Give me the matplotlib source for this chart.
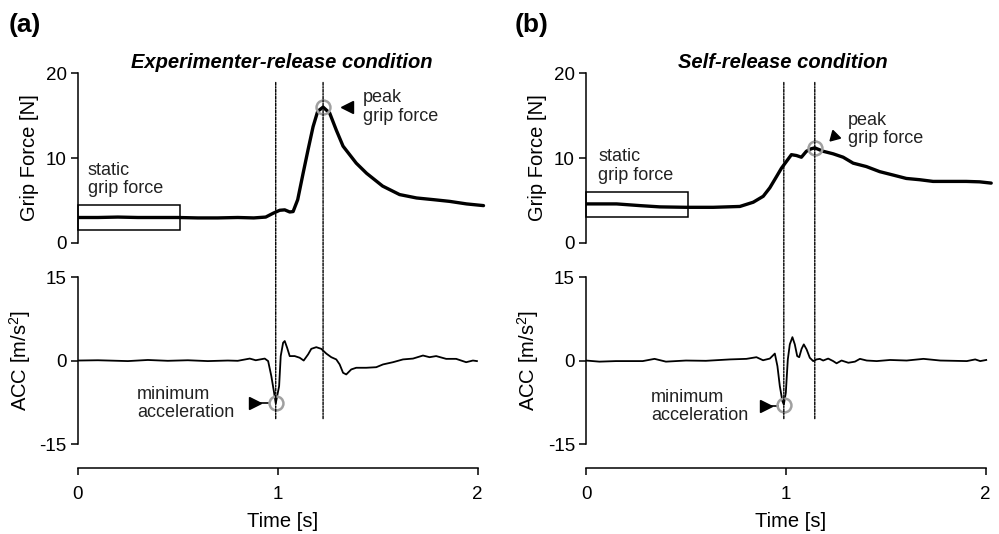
import numpy as np
import matplotlib
matplotlib.use("Agg")
import matplotlib.pyplot as plt
from matplotlib.patches import Rectangle, ConnectionPatch

plt.rcParams['font.family'] = ['Liberation Sans', 'DejaVu Sans']
plt.rcParams['mathtext.default'] = 'regular'
plt.rcParams['axes.unicode_minus'] = False

# ---- data (time in s) ----
# (a) experimenter-release: grip force [N]
t_grip_a = [0.00, 0.10, 0.20, 0.30, 0.40, 0.50, 0.60, 0.70, 0.80, 0.88, 0.94, 0.977, 1.01, 1.035,
            1.06, 1.077, 1.10, 1.127, 1.152, 1.177, 1.20, 1.227, 1.26, 1.293, 1.327, 1.36, 1.393,
            1.445, 1.525, 1.61, 1.695, 1.78, 1.86, 1.945, 2.03]
grip_a = [3.0, 3.0, 3.05, 3.0, 3.0, 3.0, 2.95, 2.95, 3.0, 2.95, 3.05, 3.5, 3.85, 3.9,
          3.65, 3.7, 5.1, 8.2, 11.0, 13.7, 15.5, 16.0, 15.3, 13.3, 11.4, 10.4, 9.4,
          8.2, 6.7, 5.7, 5.3, 5.1, 4.9, 4.6, 4.4]

# (a) acceleration [m/s^2]
t_acc_a = [0.00, 0.10, 0.25, 0.35, 0.45, 0.55, 0.65, 0.75, 0.80, 0.86, 0.89, 0.935, 0.952, 0.968,
           0.982, 0.99, 1.007, 1.015, 1.027, 1.035, 1.047, 1.06, 1.085, 1.11, 1.13, 1.152, 1.168,
           1.193, 1.218, 1.243, 1.268, 1.293, 1.31, 1.327, 1.343, 1.368, 1.393, 1.443, 1.493,
           1.527, 1.577, 1.627, 1.677, 1.727, 1.76, 1.793, 1.843, 1.893, 1.943, 1.977, 1.997]
acc_a = [0.0, 0.05, -0.1, 0.1, -0.05, 0.05, -0.1, 0.0, -0.05, 0.35, 0.05, 0.35, -0.1, -2.8,
         -5.8, -7.7, -4.6, 0.8, 3.2, 3.5, 2.3, 0.8, 0.8, 0.5, 0.0, 1.1, 2.1,
         2.4, 2.1, 1.25, 0.6, 0.2, -0.7, -2.2, -2.5, -1.6, -1.3, -1.3, -1.2,
         -0.7, -0.3, 0.2, 0.35, 0.9, 0.6, 0.8, 0.3, 0.3, -0.3, 0.0, -0.1]

# (b) self-release: grip force [N]
t_grip_b = [0.00, 0.153, 0.27, 0.37, 0.503, 0.637, 0.77, 0.837, 0.887, 0.92, 0.953, 0.978, 1.003,
            1.028, 1.053, 1.078, 1.103, 1.128, 1.145, 1.187, 1.237, 1.287, 1.337, 1.403, 1.47,
            1.537, 1.603, 1.67, 1.737, 1.82, 1.903, 1.97, 2.028]
grip_b = [4.6, 4.6, 4.4, 4.25, 4.2, 4.2, 4.3, 4.8, 5.5, 6.5, 7.8, 8.8, 9.6,
          10.4, 10.3, 10.1, 10.8, 11.1, 11.2, 10.8, 10.5, 10.1, 9.4, 9.0, 8.4,
          8.0, 7.6, 7.45, 7.25, 7.25, 7.25, 7.2, 7.05]

# (b) acceleration [m/s^2]
t_acc_b = [0.00, 0.067, 0.15, 0.284, 0.343, 0.40, 0.50, 0.60, 0.72, 0.803, 0.853, 0.886, 0.92,
           0.945, 0.958, 0.97, 0.983, 0.99, 1.00, 1.01, 1.02, 1.033, 1.045, 1.057, 1.067, 1.079,
           1.09, 1.104, 1.12, 1.137, 1.154, 1.17, 1.187, 1.212, 1.237, 1.254, 1.279, 1.313,
           1.346, 1.371, 1.405, 1.455, 1.522, 1.605, 1.689, 1.773, 1.906, 1.948, 1.973, 2.003]
acc_b = [0.0, -0.2, -0.1, -0.1, 0.3, -0.2, 0.0, -0.05, 0.2, 0.3, 0.6, 0.05, 0.35,
         1.25, -1.0, -4.6, -7.3, -7.9, -5.8, 0.2, 2.9, 4.2, 2.9, 0.8, 0.6, 2.1,
         2.9, 2.0, 0.5, -0.1, 0.2, 0.3, 0.0, 0.35, -0.1, -0.5, 0.0, -0.4,
         -0.2, 0.3, 0.0, -0.1, 0.1, 0.0, 0.3, 0.0, -0.1, 0.2, -0.1, 0.1]

titles = ['Experimenter-release condition', 'Self-release condition']
title_x = [1.02, 0.985]                   # title centre, in seconds
panel_labels = ['(a)', '(b)']
static_box = [(1.5, 4.5), (3.0, 6.0)]     # y-range of static grip force box
box_t = 0.51

fig = plt.figure(figsize=(9.99, 5.34), dpi=100)

lefts = [0.078, 0.5866]
label_x = [0.009, 0.515]
panels = [(t_grip_a, grip_a, t_acc_a, acc_a), (t_grip_b, grip_b, t_acc_b, acc_b)]

grey = '#a0a0a0'
tfs = 13.5   # tick labels
lfs = 14.5   # axis labels
afs = 13     # annotations
txt_col = '#222222'

for i, (tg, g, ta, a) in enumerate(panels):
    left = lefts[i]
    ax1 = fig.add_axes([left, 0.545, 0.41, 0.318])
    ax2 = fig.add_axes([left, 0.1685, 0.41, 0.3127])

    tg = np.array(tg); g = np.array(g); ta = np.array(ta); a = np.array(a)

    # grip force
    ax1.plot(tg, g, color='black', lw=2.4, solid_capstyle='round')
    ax1.set_xlim(0, 2.05)
    ax1.set_ylim(0, 20)
    for s in ['top', 'right', 'bottom']:
        ax1.spines[s].set_visible(False)
    ax1.spines['left'].set_linewidth(1.1)
    ax1.set_xticks([])
    ax1.set_yticks([0, 10, 20])
    ax1.tick_params(axis='y', direction='out', length=5, width=1.1, pad=3, labelsize=tfs)
    ax1.set_ylabel('Grip Force [N]', fontsize=lfs, labelpad=5)
    lo, hi = static_box[i]
    ax1.add_patch(Rectangle((0, lo), box_t, hi - lo, fill=False, ec='black', lw=1.1, clip_on=False))
    ax1.text(0.05 if i == 0 else 0.06, 5.4 if i == 0 else 7.0, 'static\ngrip force',
             fontsize=afs, va='bottom', ha='left', color=txt_col, linespacing=1.1)

    # peak grip force marker
    k = int(np.argmax(g))
    ax1.plot(tg[k], g[k], 'o', mfc='none', mec=grey, ms=10, mew=1.8, clip_on=False, zorder=5)

    # acceleration
    ax2.plot(ta, a, color='black', lw=1.3)
    ax2.set_xlim(0, 2.05)
    ax2.set_ylim(-15, 15)
    for s in ['top', 'right']:
        ax2.spines[s].set_visible(False)
    ax2.spines['left'].set_linewidth(1.1)
    ax2.spines['bottom'].set_linewidth(1.1)
    ax2.spines['bottom'].set_position(('outward', 17))
    ax2.spines['bottom'].set_bounds(0, 2)
    ax2.set_xticks([0, 1, 2])
    ax2.set_xticklabels(['0', '1', '2'])
    ax2.set_yticks([-15, 0, 15])
    ax2.tick_params(direction='out', length=5, width=1.1, labelsize=tfs)
    ax2.tick_params(axis='y', pad=3)
    ax2.tick_params(axis='x', pad=8)
    ax2.set_ylabel('ACC [m/s$^{2}$]', fontsize=lfs, labelpad=5)
    ax2.set_xlabel('Time [s]', fontsize=lfs, labelpad=7)

    m = int(np.argmin(a))
    ax2.plot(ta[m], a[m], 'o', mfc='none', mec=grey, ms=10, mew=1.8, zorder=5)

    # vertical dotted event lines spanning both plots
    for tv in [ta[m], tg[k]]:
        con = ConnectionPatch(xyA=(tv, 18.9), coordsA=ax1.transData,
                              xyB=(tv, -10.6), coordsB=ax2.transData,
                              linestyle=(0, (2, 1, 1, 1)), lw=1.0, color='black')
        fig.add_artist(con)

    # annotations
    if i == 0:
        ax1.plot(1.345, g[k], marker='<', color='black', ms=9, clip_on=False)
        ax1.text(1.425, g[k], 'peak\ngrip force', fontsize=afs, va='center', ha='left',
                 color=txt_col, linespacing=1.1)
        ax2.plot(0.885, a[m], marker='>', color='black', ms=9)
        ax2.plot([0.9, 0.95], [a[m], a[m]], color='black', lw=1.2)
        ax2.text(0.295, a[m], 'minimum\nacceleration', fontsize=afs, va='center', ha='left',
                 color=txt_col, linespacing=1.1)
    else:
        ax1.plot(1.24, 12.6, marker=(3, 0, 15), color='black', ms=9, clip_on=False)
        ax1.text(1.31, 13.4, 'peak\ngrip force', fontsize=afs, va='center', ha='left',
                 color=txt_col, linespacing=1.1)
        ax2.plot(0.9, a[m] - 0.2, marker='>', color='black', ms=9)
        ax2.plot([0.915, 0.96], [a[m] - 0.2, a[m] - 0.2], color='black', lw=1.2)
        ax2.text(0.325, a[m] - 0.4, 'minimum\nacceleration', fontsize=afs, va='center',
                 ha='left', color=txt_col, linespacing=1.1)

    ax1.text(title_x[i], 21.3, titles[i], ha='center', va='center', fontsize=lfs,
             fontweight='bold', style='italic', clip_on=False)

    fig.text(label_x[i], 0.953, panel_labels[i], fontsize=19, fontweight='bold',
             va='center', ha='left')

fig.savefig('out.png', dpi=100)
